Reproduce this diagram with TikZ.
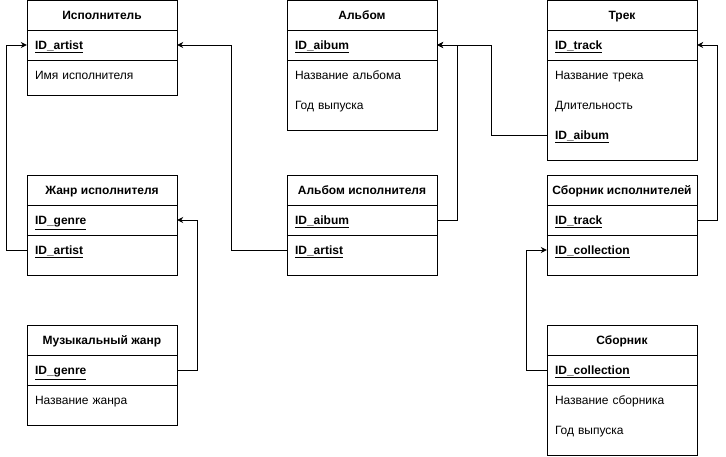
\documentclass[tikz,border=0pt]{standalone}
\usepackage{fontspec}
\setmainfont{Liberation Sans}
\usetikzlibrary{arrows.meta}
\tikzset{
  tbox/.style={draw=black, line width=1pt, minimum width=150pt, inner sep=0pt, fill=white},
  hdr/.style={minimum width=150pt, minimum height=30pt, inner sep=0pt, text height=9.6pt, text depth=0.4pt, font=\fontsize{12}{14}\selectfont\bfseries},
  row/.style={minimum height=30pt, text width=134pt, inner xsep=8pt, inner ysep=0pt, text height=10pt, text depth=0.4pt, align=left, font=\fontsize{12}{14}\selectfont},
  sep/.style={line width=1pt},
  arr/.style={line width=1pt, -{Stealth[length=6pt,width=6pt]}},
}
\newcommand{\pk}[1]{\underline{\textbf{#1}}}
\begin{document}
\begin{tikzpicture}[x=1pt,y=-1pt]
\useasboundingbox (0,0) rectangle (726,456);
% Исполнитель
\node[tbox, minimum height=95pt] (art) at (102,48) {};
\node[hdr] (artH) at (102,15) {Исполнитель};
\node[row] (artID) at (102,45) {\pk{ID\_artist}};
\node[row] (artName) at (102,75) {Имя исполнителя};
\draw[sep] (artH.south west) -- (artH.south east);
\draw[sep] (artID.south west) -- (artID.south east);
% Альбом
\node[tbox, minimum height=130pt] (alb) at (362,65) {};
\node[hdr] (albH) at (362,15) {Альбом};
\node[row] (albID) at (362,45) {\pk{ID\_aibum}};
\node[row] (albName) at (362,75) {Название альбома};
\node[row] (albYear) at (362,105) {Год выпуска};
\draw[sep] (albH.south west) -- (albH.south east);
\draw[sep] (albID.south west) -- (albID.south east);
% Трек
\node[tbox, minimum height=160pt] (tr) at (622,80) {};
\node[hdr] (trH) at (622,15) {Трек};
\node[row] (trID) at (622,45) {\pk{ID\_track}};
\node[row] (trName) at (622,75) {Название трека};
\node[row] (trLen) at (622,105) {Длительность};
\node[row] (trAlb) at (622,135) {\pk{ID\_aibum}};
\draw[sep] (trH.south west) -- (trH.south east);
\draw[sep] (trID.south west) -- (trID.south east);
% Жанр исполнителя
\node[tbox, minimum height=100pt] (ja) at (102,225) {};
\node[hdr] (jaH) at (102,190) {Жанр исполнителя};
\node[row] (jaGen) at (102,220) {\pk{ID\_genre}};
\node[row] (jaArt) at (102,250) {\pk{ID\_artist}};
\draw[sep] (jaH.south west) -- (jaH.south east);
\draw[sep] (jaGen.south west) -- (jaGen.south east);
% Альбом исполнителя
\node[tbox, minimum height=100pt] (aa) at (362,225) {};
\node[hdr] (aaH) at (362,190) {Альбом исполнителя};
\node[row] (aaAlb) at (362,220) {\pk{ID\_aibum}};
\node[row] (aaArt) at (362,250) {\pk{ID\_artist}};
\draw[sep] (aaH.south west) -- (aaH.south east);
\draw[sep] (aaAlb.south west) -- (aaAlb.south east);
% Сборник исполнителей
\node[tbox, minimum height=100pt] (si) at (622,225) {};
\node[hdr] (siH) at (622,190) {Сборник исполнителей};
\node[row] (siTr) at (622,220) {\pk{ID\_track}};
\node[row] (siCol) at (622,250) {\pk{ID\_collection}};
\draw[sep] (siH.south west) -- (siH.south east);
\draw[sep] (siTr.south west) -- (siTr.south east);
% Музыкальный жанр
\node[tbox, minimum height=100pt] (mg) at (102,375) {};
\node[hdr] (mgH) at (102,340) {Музыкальный жанр};
\node[row] (mgID) at (102,370) {\pk{ID\_genre}};
\node[row] (mgName) at (102,400) {Название жанра};
\draw[sep] (mgH.south west) -- (mgH.south east);
\draw[sep] (mgID.south west) -- (mgID.south east);
% Сборник
\node[tbox, minimum height=130pt] (sb) at (622,390) {};
\node[hdr] (sbH) at (622,340) {Сборник};
\node[row] (sbID) at (622,370) {\pk{ID\_collection}};
\node[row] (sbName) at (622,400) {Название сборника};
\node[row] (sbYear) at (622,430) {Год выпуска};
\draw[sep] (sbH.south west) -- (sbH.south east);
\draw[sep] (sbID.south west) -- (sbID.south east);
% connectors
\draw[arr] (jaArt.west) -- ++(-20,0) |- (artID.west);
\draw[arr] (aaArt.west) -- ++(-55,0) |- (artID.east);
\draw[arr] (aaAlb.east) -- ++(20,0) |- (albID.east);
\draw[arr] (trAlb.west) -- ++(-55,0) |- (albID.east);
\draw[arr] (siTr.east) -- ++(20,0) |- (trID.east);
\draw[arr] (sbID.west) -- ++(-20,0) |- (siCol.west);
\draw[arr] (mgID.east) -- ++(20,0) |- (jaGen.east);
\end{tikzpicture}
\end{document}
